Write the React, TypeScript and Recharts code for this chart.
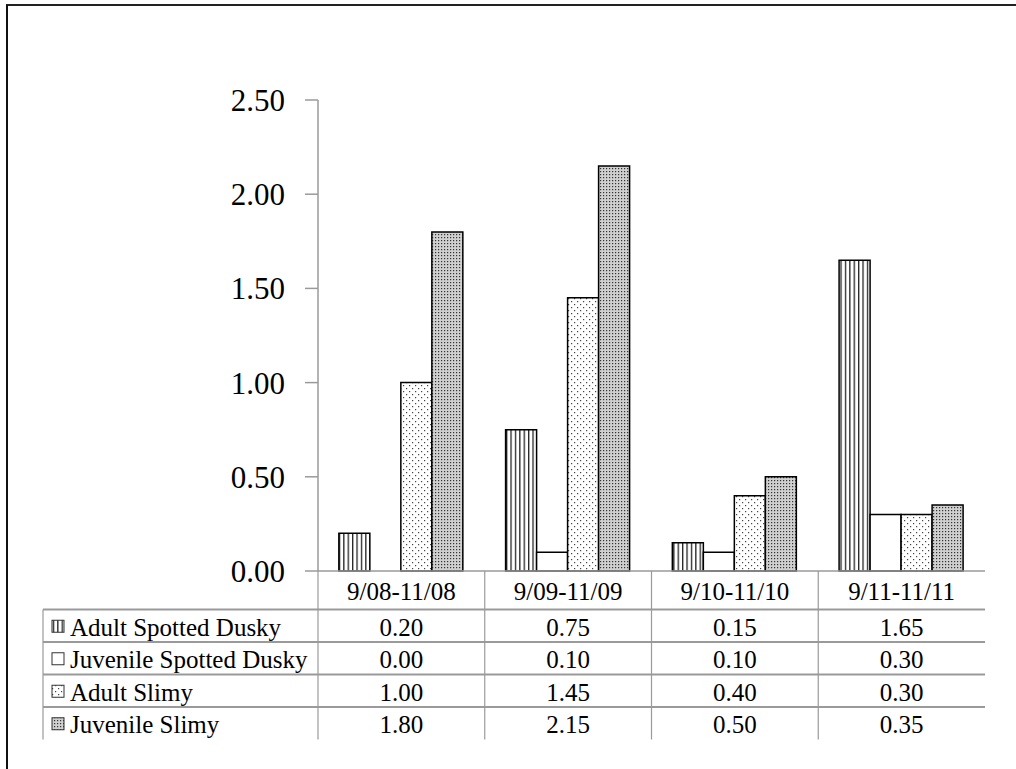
import React from 'react'
import { BarChart, Bar, XAxis, YAxis, Text } from 'recharts'

// period labels along the x axis
const categories = ['9/08-11/08', '9/09-11/09', '9/10-11/10', '9/11-11/11']

// values per period
const adultSpottedDusky = [0.2, 0.75, 0.15, 1.65]
const juvenileSpottedDusky = [0.0, 0.1, 0.1, 0.3]
const adultSlimy = [1.0, 1.45, 0.4, 0.3]
const juvenileSlimy = [1.8, 2.15, 0.5, 0.35]

const yTicks = [0, 0.5, 1, 1.5, 2, 2.5]

const series = [
  { key: 'asd', name: 'Adult Spotted Dusky', values: adultSpottedDusky, fill: 'url(#patVert)' },
  { key: 'jsd', name: 'Juvenile Spotted Dusky', values: juvenileSpottedDusky, fill: '#ffffff' },
  { key: 'as', name: 'Adult Slimy', values: adultSlimy, fill: 'url(#patSparse)' },
  { key: 'js', name: 'Juvenile Slimy', values: juvenileSlimy, fill: 'url(#patDense)' },
]

const data = categories.map((c, i) => {
  const row: Record<string, string | number> = { period: c }
  series.forEach((s) => {
    row[s.key] = s.values[i]
  })
  return row
})

const FONT = '"Liberation Serif", "Times New Roman", serif'
const GRID = '#9a9a9a'
const HEAD_H = 38.5
const ROW_H = 32.5
const FS = 25

function TableTick(props: any) {
  const { x, y, payload, index } = props
  const half = payload?.offset ?? 83.5
  const left = x - half
  const i = payload?.index ?? index
  const right = left + (categories.length - i) * half * 2
  const bottom = y + HEAD_H + ROW_H * series.length

  return (
    <g>
      <line x1={left} y1={y} x2={left} y2={bottom} stroke={GRID} strokeWidth={1.2} />
      <Text x={x} y={y + HEAD_H / 2 + 1} textAnchor="middle" verticalAnchor="middle" fontFamily={FONT} fontSize={FS} fill="#000">
        {payload.value}
      </Text>
      {series.map((s, r) => (
        <Text
          key={s.key}
          x={x}
          y={y + HEAD_H + ROW_H * r + ROW_H / 2 + 1}
          textAnchor="middle"
          verticalAnchor="middle"
          fontFamily={FONT}
          fontSize={FS}
          fill="#000"
        >
          {s.values[i].toFixed(2)}
        </Text>
      ))}
      {i === 0 && (
        <g>
          <line x1={43} y1={y + HEAD_H} x2={43} y2={bottom} stroke={GRID} strokeWidth={1.2} />
          {series.map((s, r) => (
            <line
              key={'h' + s.key}
              x1={43}
              y1={y + HEAD_H + ROW_H * r}
              x2={right}
              y2={y + HEAD_H + ROW_H * r}
              stroke={GRID}
              strokeWidth={1.8}
            />
          ))}
          {series.map((s, r) => {
            const cy = y + HEAD_H + ROW_H * r + ROW_H / 2
            return (
              <g key={'lbl' + s.key}>
                <rect x={52} y={cy - 5.5} width={12} height={12} fill={s.fill} stroke="#333" strokeWidth={1} />
                <Text x={70} y={cy + 1} verticalAnchor="middle" fontFamily={FONT} fontSize={FS} fill="#000">
                  {s.name}
                </Text>
              </g>
            )
          })}
        </g>
      )}
    </g>
  )
}

export default function App() {
  return (
    <div style={{ position: 'absolute', left: 0, top: 0, width: 1016, height: 769, background: '#fff', overflow: 'hidden' }}>
      <div
        style={{
          position: 'absolute',
          left: 6,
          top: 4,
          width: 1200,
          height: 1000,
          borderLeft: '2.5px solid #111',
          borderTop: '2.5px solid #222',
        }}
      />
      <div style={{ position: 'absolute', left: 0, top: 0 }}>
        <BarChart
          width={1016}
          height={769}
          data={data}
          margin={{ top: 100, right: 31, left: 0, bottom: 0 }}
          barCategoryGap="12.5%"
          barGap={0}
        >
          <defs>
            <pattern id="patVert" width="4.4" height="4" patternUnits="userSpaceOnUse">
              <rect width="4.4" height="4" fill="#fff" />
              <rect x="0" y="0" width="1.3" height="4" fill="#222" />
            </pattern>
            <pattern id="patSparse" width="6" height="6" patternUnits="userSpaceOnUse">
              <rect width="6" height="6" fill="#fff" />
              <rect x="1" y="1" width="1.2" height="1.2" fill="#444" />
              <rect x="4" y="4" width="1.2" height="1.2" fill="#444" />
            </pattern>
            <pattern id="patDense" width="3" height="3" patternUnits="userSpaceOnUse">
              <rect width="3" height="3" fill="#d0d0d0" />
              <rect x="0" y="0" width="1.2" height="1.2" fill="#333" />
            </pattern>
          </defs>
          <XAxis
            dataKey="period"
            height={198}
            tickSize={0}
            tickMargin={0}
            tickLine={false}
            axisLine={{ stroke: GRID, strokeWidth: 1.5 }}
            interval={0}
            tick={<TableTick />}
          />
          <YAxis
            width={318}
            domain={[0, 2.5]}
            ticks={yTicks}
            tickFormatter={(v: number) => v.toFixed(2)}
            tickSize={13}
            tickMargin={20}
            axisLine={{ stroke: GRID, strokeWidth: 1.5 }}
            tickLine={{ stroke: GRID, strokeWidth: 1.5 }}
            tick={{ fill: '#000', fontSize: 31, fontFamily: FONT }}
          />
          {series.map((s) => (
            <Bar
              key={s.key}
              dataKey={s.key}
              name={s.name}
              fill={s.fill}
              stroke="#000"
              strokeWidth={1.5}
              isAnimationActive={false}
            />
          ))}
        </BarChart>
      </div>
    </div>
  )
}
